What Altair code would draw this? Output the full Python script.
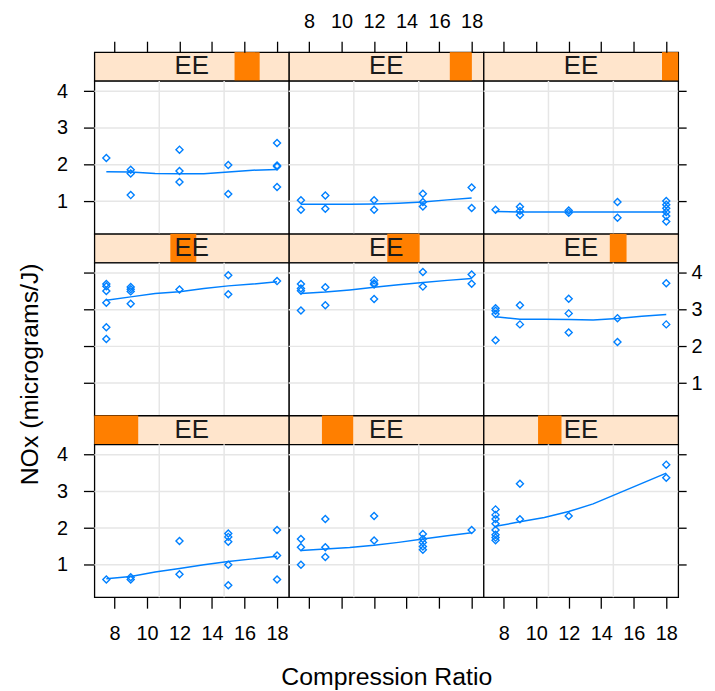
import altair as alt
import pandas as pd

FONT = "Liberation Sans"

# ---- scales / ticks ----
C_DOMAIN = [6.765, 18.735]
NOX_DOMAIN = [0.114, 4.284]
E_RANGE = [0.535, 1.232]
X_TICKS = [8, 10, 12, 14, 16, 18]
Y_TICKS = [1, 2, 3, 4]
V_GRID = [10.755, 14.745]
FIT_C = [7.5, 9, 10.5, 12, 13.5, 15, 16.5, 18]

# ---- panels, in lattice order (1 = bottom-left ... 9 = top-right) ----
P1_C = [7.5, 9, 9, 12, 12, 15, 15, 15, 15, 15, 18, 18, 18]
P1_NOX = [0.60, 0.66, 0.60, 1.65, 0.74, 1.85, 1.76, 1.63, 1.00, 0.44, 1.95, 1.25, 0.60]
P1_FIT = [0.62, 0.68, 0.80, 0.90, 1.00, 1.09, 1.16, 1.23]

P2_C = [7.5, 7.5, 7.5, 9, 9, 9, 12, 12, 15, 15, 15, 15, 15, 18]
P2_NOX = [1.70, 1.48, 1.00, 2.25, 1.48, 1.21, 2.33, 1.66, 1.84, 1.70, 1.61, 1.50, 1.41, 1.95]
P2_FIT = [1.39, 1.43, 1.47, 1.53, 1.61, 1.70, 1.79, 1.87]

P3_C = [7.5, 7.5, 7.5, 7.5, 7.5, 7.5, 7.5, 7.5, 9, 9, 12, 18, 18]
P3_NOX = [2.51, 2.36, 2.25, 2.12, 1.95, 1.82, 1.74, 1.67, 3.21, 2.24, 2.33, 3.73, 3.37]
P3_FIT = [2.05, 2.17, 2.29, 2.45, 2.66, 2.94, 3.22, 3.50]

P4_C = [7.5, 7.5, 7.5, 7.5, 7.5, 7.5, 9, 9, 9, 9, 12, 15, 15, 18]
P4_NOX = [3.70, 3.64, 3.51, 3.19, 2.52, 2.20, 3.62, 3.56, 3.50, 3.16, 3.55, 3.94, 3.42, 3.78]
P4_FIT = [3.26, 3.35, 3.44, 3.49, 3.58, 3.65, 3.70, 3.76]

P5_C = [7.5, 7.5, 7.5, 7.5, 9, 9, 12, 12, 12, 12, 15, 15, 18, 18]
P5_NOX = [3.70, 3.58, 3.52, 2.98, 3.61, 3.12, 3.80, 3.72, 3.69, 3.29, 4.03, 3.63, 3.96, 3.71]
P5_FIT = [3.44, 3.48, 3.54, 3.61, 3.68, 3.74, 3.80, 3.85]

P6_C = [7.5, 7.5, 7.5, 7.5, 9, 9, 12, 12, 12, 15, 15, 18, 18]
P6_NOX = [3.04, 2.97, 2.88, 2.17, 3.12, 2.60, 3.30, 2.90, 2.38, 2.77, 2.12, 3.72, 2.60]
P6_FIT = [2.81, 2.74, 2.74, 2.73, 2.72, 2.76, 2.82, 2.87]

P7_C = [7.5, 9, 9, 9, 12, 12, 12, 15, 15, 18, 18, 18, 18]
P7_NOX = [2.18, 1.86, 1.76, 1.17, 2.41, 1.83, 1.53, 1.99, 1.20, 2.59, 1.98, 1.95, 1.39]
P7_FIT = [1.81, 1.80, 1.76, 1.75, 1.75, 1.80, 1.85, 1.87]

P8_C = [7.5, 7.5, 9, 9, 12, 12, 15, 15, 15, 18, 18]
P8_NOX = [1.03, 0.77, 1.16, 0.80, 1.03, 0.77, 1.21, 0.98, 0.86, 1.38, 0.82]
P8_FIT = [0.92, 0.92, 0.92, 0.93, 0.95, 0.98, 1.04, 1.09]

P9_C = [7.5, 9, 9, 9, 12, 12, 15, 15, 18, 18, 18, 18, 18, 18]
P9_NOX = [0.77, 0.85, 0.74, 0.63, 0.75, 0.69, 0.98, 0.55, 1.01, 0.91, 0.81, 0.71, 0.60, 0.45]
P9_FIT = [0.72, 0.71, 0.71, 0.71, 0.71, 0.71, 0.71, 0.71]

# shingle intervals of E shown in the strips
E_LO = [0.535, 0.653, 0.730, 0.807, 0.887, 0.987, 1.037, 1.111, 1.174]
E_HI = [0.692, 0.765, 0.814, 0.900, 1.003, 1.047, 1.127, 1.190, 1.232]
STRIP_LABEL = "EE"

PANELS = [
    (P1_C, P1_NOX, P1_FIT), (P2_C, P2_NOX, P2_FIT), (P3_C, P3_NOX, P3_FIT),
    (P4_C, P4_NOX, P4_FIT), (P5_C, P5_NOX, P5_FIT), (P6_C, P6_NOX, P6_FIT),
    (P7_C, P7_NOX, P7_FIT), (P8_C, P8_NOX, P8_FIT), (P9_C, P9_NOX, P9_FIT),
]

W, SH, PH = 196, 29, 154
BLUE = "#0080ff"
GRID = "#e6e6e6"
STRIP_BG = "#ffe5cc"
SHINGLE = "#ff7f00"

xs = alt.Scale(domain=C_DOMAIN, nice=False, zero=False)
ys = alt.Scale(domain=NOX_DOMAIN, nice=False, zero=False)
es = alt.Scale(domain=E_RANGE, nice=False, zero=False)


def axis(orient, values, labels, title=None, **extra):
    pad = {"left": 16, "right": 5, "top": 10, "bottom": 16}[orient]
    tsize = {"left": 11, "right": 8, "top": 11, "bottom": 11}[orient]
    return alt.Axis(orient=orient, values=values, labels=labels, title=title,
                    tickSize=tsize, tickWidth=1.3, tickColor="black",
                    domain=False, grid=False, labelFont=FONT, labelFontSize=20,
                    labelColor="black", labelPadding=pad, labelFlush=False,
                    labelOverlap=False, labelAngle=0, titleFont=FONT,
                    titleFontSize=25, titleFontWeight="normal",
                    titleColor="black", **extra)


def panel(k, row, col):
    c, nox, fit = PANELS[k]
    if row == 0:
        xa = axis("top", X_TICKS, col == 1, offset=SH)
    elif row == 2:
        if col == 1:
            xa = axis("bottom", X_TICKS, False, title="Compression Ratio",
                      titlePadding=56)
        else:
            xa = axis("bottom", X_TICKS, True)
    else:
        xa = None
    if col == 0:
        if row == 1:
            ya = axis("left", Y_TICKS, False, title="NOx (micrograms/J)",
                      titlePadding=41, titleY=112)
        else:
            ya = axis("left", Y_TICKS, True)
    elif col == 2:
        ya = axis("right", Y_TICKS, row == 1)
    else:
        ya = None

    def X(f):
        return alt.X(f, type="quantitative", scale=xs, axis=xa)

    def Y(f):
        return alt.Y(f, type="quantitative", scale=ys, axis=ya)

    vgrid = alt.Chart(pd.DataFrame({"g": V_GRID})).mark_rule(
        color=GRID, strokeWidth=1.5).encode(x=X("g"))
    hgrid = alt.Chart(pd.DataFrame({"h": Y_TICKS})).mark_rule(
        color=GRID, strokeWidth=1.5).encode(y=Y("h"))
    line = alt.Chart(pd.DataFrame({"C": FIT_C, "NOx": fit})).mark_line(
        color=BLUE, strokeWidth=1.5).encode(x=X("C"), y=Y("NOx"))
    pts = alt.Chart(pd.DataFrame({"C": c, "NOx": nox})).mark_point(
        shape="diamond", filled=False, size=50, strokeWidth=1.4,
        color=BLUE, opacity=1).encode(x=X("C"), y=Y("NOx"))
    return alt.layer(vgrid, hgrid, line, pts).properties(
        width=W, height=PH,
        view=alt.ViewBackground(fill="white", stroke="black", strokeWidth=1.3))


def strip(k):
    rect = alt.Chart(pd.DataFrame({"lo": [E_LO[k]], "hi": [E_HI[k]]})).mark_rect(
        color=SHINGLE).encode(x=alt.X("lo:Q", scale=es, axis=None), x2="hi:Q")
    mid = (E_RANGE[0] + E_RANGE[1]) / 2
    txt = alt.Chart(pd.DataFrame({"e": [mid], "t": [STRIP_LABEL]})).mark_text(
        font=FONT, fontSize=26, color="#1a1a1a", baseline="middle").encode(
        x=alt.X("e:Q", scale=es, axis=None), text="t:N")
    return alt.layer(rect, txt).properties(
        width=W, height=SH,
        view=alt.ViewBackground(fill=STRIP_BG, stroke="black", strokeWidth=1.3))


cells = []
for row in range(3):
    base = 3 * (2 - row)
    cells += [strip(base + col) for col in range(3)]
    cells += [panel(base + col, row, col) for col in range(3)]

chart = alt.concat(*cells, columns=3, spacing=0, bounds="flush",
                   align="each").properties(
    padding={"left": 8, "top": 0, "right": 4, "bottom": 0},
    background="white",
)

chart.save("out.html", embed_options={"renderer": "svg", "actions": False})
